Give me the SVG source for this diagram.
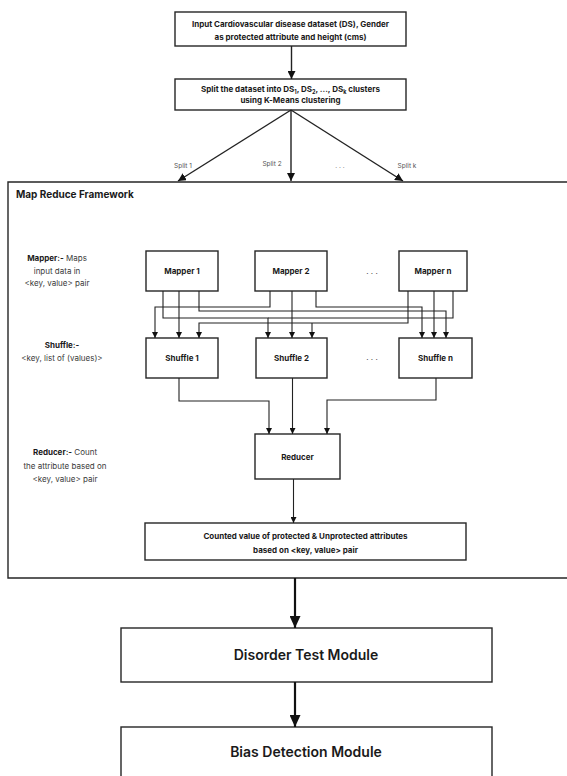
<svg xmlns="http://www.w3.org/2000/svg" width="567" height="776" viewBox="0 0 567 776">
<style>
.box{fill:#fff;stroke:#262626;stroke-width:1.4}
.t{font-family:Inter,"Liberation Sans",sans-serif;fill:#1a1a1a;text-anchor:middle}
.b{font-weight:700;font-size:8px}
.n{font-weight:400;font-size:8px;fill:#3a3a3a}
.sp{font-family:Inter,"Liberation Sans",sans-serif;font-size:6.5px;fill:#555;text-anchor:middle}
.big{font-weight:600;font-size:14px}
.c1{fill:none;stroke:#222;stroke-width:1.1}
.c2{fill:none;stroke:#222;stroke-width:1.4}
.c3{fill:none;stroke:#111;stroke-width:2.2}
</style>
<defs>
<marker id="as" markerUnits="userSpaceOnUse" markerWidth="6" markerHeight="6" refX="6" refY="3" orient="auto"><path d="M0,0 L6,3 L0,6 z" fill="#111"/></marker>
<marker id="am" markerUnits="userSpaceOnUse" markerWidth="8" markerHeight="8" refX="8" refY="4" orient="auto"><path d="M0,0 L8,4 L0,8 z" fill="#111"/></marker>
<marker id="al" markerUnits="userSpaceOnUse" markerWidth="12" markerHeight="11" refX="12" refY="5.5" orient="auto"><path d="M0,0 L12,5.5 L0,11 z" fill="#111"/></marker>
</defs>

<g id="framework">
<path d="M567,182 H8 V578 H567" fill="none" stroke="#262626" stroke-width="1.4"/>
<text class="t" x="16" y="198" style="text-anchor:start;font-weight:700;font-size:10px">Map Reduce Framework</text>
</g>

<g id="input">
<rect class="box" x="175" y="12" width="231" height="34"/>
<text class="t b" x="290.5" y="26.5">Input Cardiovascular disease dataset (DS), Gender</text>
<text class="t b" x="290.5" y="39.5">as protected attribute and height (cms)</text>
</g>

<g id="split">
<rect class="box" x="175" y="79" width="231" height="31"/>
<text class="t b" x="290.5" y="91.5">Split the dataset into DS<tspan font-size="5.5" baseline-shift="-1.5">1</tspan>, DS<tspan font-size="5.5" baseline-shift="-1.5">2</tspan>, ..., DS<tspan font-size="5.5" baseline-shift="-1.5">k</tspan> clusters</text>
<text class="t b" x="290.5" y="102.5">using K-Means clustering</text>
</g>

<g id="labels">
<text class="sp" x="183" y="168">Split 1</text>
<text class="sp" x="272" y="166">Split 2</text>
<text class="sp" x="340" y="168">. . .</text>
<text class="sp" x="407" y="168">Split k</text>
<text class="t n" x="57" y="261"><tspan font-weight="700" fill="#1a1a1a">Mapper:-</tspan> Maps</text>
<text class="t n" x="57" y="274">input data in</text>
<text class="t n" x="57" y="286">&lt;key, value&gt; pair</text>
<text class="t n" x="62" y="348"><tspan font-weight="700" fill="#1a1a1a">Shuffle:-</tspan></text>
<text class="t n" x="62" y="361">&lt;key, list of (values)&gt;</text>
<text class="t n" x="65" y="455"><tspan font-weight="700" fill="#1a1a1a">Reducer:-</tspan> Count</text>
<text class="t n" x="65" y="469">the attribute based on</text>
<text class="t n" x="65" y="482">&lt;key, value&gt; pair</text>
<text class="t n" x="372" y="274">. . .</text>
<text class="t n" x="372" y="360">. . .</text>
</g>

<g id="mapper1"><rect class="box" x="146" y="251" width="72" height="40"/><text class="t b" x="182" y="274">Mapper 1</text></g>
<g id="mapper2"><rect class="box" x="255" y="251" width="72" height="40"/><text class="t b" x="291" y="274">Mapper 2</text></g>
<g id="mappern"><rect class="box" x="399" y="251" width="68" height="40"/><text class="t b" x="433" y="274">Mapper n</text></g>

<g id="shuffle1"><rect class="box" x="146" y="338" width="72" height="40"/><text class="t b" x="182" y="361">Shuffle 1</text></g>
<g id="shuffle2"><rect class="box" x="256" y="338" width="71" height="40"/><text class="t b" x="291.5" y="361">Shuffle 2</text></g>
<g id="shufflen"><rect class="box" x="399" y="338" width="73" height="40"/><text class="t b" x="435.5" y="361">Shuffle n</text></g>

<g id="reducer"><rect class="box" x="255" y="434" width="85" height="45"/><text class="t b" x="297.5" y="459.5">Reducer</text></g>

<g id="counted"><rect class="box" x="145" y="523" width="321" height="37"/>
<text class="t b" x="305.5" y="539">Counted value of protected &amp; Unprotected attributes</text>
<text class="t b" x="305.5" y="553">based on &lt;key, value&gt; pair</text></g>

<g id="disorder"><rect class="box" x="121" y="628" width="371" height="54"/><text class="t big" x="306" y="660">Disorder Test Module</text></g>
<g id="bias"><rect class="box" x="121" y="727" width="371" height="60"/><text class="t big" x="306" y="757">Bias Detection Module</text></g>

<g id="connectors">
<path class="c2" d="M291.5,46 V79" marker-end="url(#am)"/>
<path class="c2" d="M291,110 L178,181" marker-end="url(#am)"/>
<path class="c2" d="M291,110 V181" marker-end="url(#am)"/>
<path class="c2" d="M291,110 L403,181" marker-end="url(#am)"/>

<path class="c1" d="M179,291 V338" marker-end="url(#as)"/>
<path class="c1" d="M163,291 V318 H268 V338" marker-end="url(#as)"/>
<path class="c1" d="M453,291 V318 H268"/>
<path class="c1" d="M199,291 V311 H446 V338" marker-end="url(#as)"/>
<path class="c1" d="M270,291 V307 H155 V338" marker-end="url(#as)"/>
<path class="c1" d="M292,291 V338" marker-end="url(#as)"/>
<path class="c1" d="M316,291 V307 H422 V338" marker-end="url(#as)"/>
<path class="c1" d="M434,291 V338" marker-end="url(#as)"/>
<path class="c1" d="M408,291 V323 H199 V338" marker-end="url(#as)"/>
<path class="c1" d="M312,323 V338" marker-end="url(#as)"/>

<path class="c1" d="M179,378 V401 H269 V434" marker-end="url(#as)"/>
<path class="c1" d="M292.5,378 V434" marker-end="url(#as)"/>
<path class="c1" d="M436,378 V400 H327 V434" marker-end="url(#as)"/>
<path class="c1" d="M293.5,479 V523" marker-end="url(#as)"/>

<path class="c3" d="M295,578 V628" marker-end="url(#al)"/>
<path class="c3" d="M295,682 V727" marker-end="url(#al)"/>
</g>
</svg>
